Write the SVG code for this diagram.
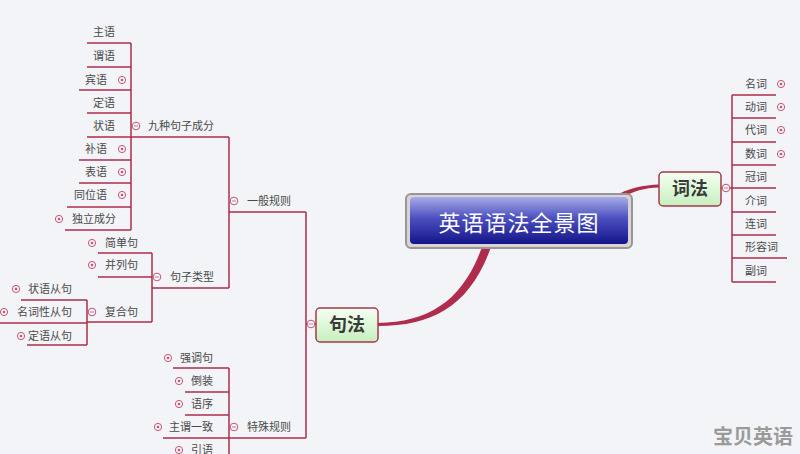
<svg xmlns="http://www.w3.org/2000/svg" width="800" height="454" viewBox="0 0 800 454">
<defs>
<linearGradient id="gBlue" x1="0" y1="0" x2="0" y2="1">
<stop offset="0" stop-color="#a8abe8"/>
<stop offset="0.45" stop-color="#4c50bf"/>
<stop offset="1" stop-color="#14148a"/>
</linearGradient>
<linearGradient id="gGreen" x1="0" y1="0" x2="0" y2="1">
<stop offset="0" stop-color="#f6fff2"/>
<stop offset="1" stop-color="#c6efbe"/>
</linearGradient>
<g id="plus"><circle r="3.6" fill="#f6f6f8" stroke="#c25574" stroke-width="1"/><circle r="1.3" fill="#c25574"/></g>
<g id="minus"><circle r="3.8" fill="#f6f6f8" stroke="#c25574" stroke-width="1"/><line x1="-2" y1="0" x2="2" y2="0" stroke="#c25574" stroke-width="0.8"/></g>
</defs>
<style>
.ln{stroke:#b02c4c;stroke-width:1.5;fill:none}
.t{font-family:"Noto Sans CJK SC","Noto Sans",sans-serif;font-size:11px;fill:#4a4a4a}
.e{text-anchor:end}
.sub{font-family:"Noto Sans CJK SC",serif;font-size:18px;font-weight:bold;fill:#3a3a3a;text-anchor:middle}
.box{fill:url(#gGreen);stroke:#a53a4c;stroke-width:1.5}
</style>
<rect width="800" height="454" fill="#f3f4f7"/>
<g id="connectors">
<path class="ln" d="M131,43V230 M87,43H131 M87,67H131 M79,90H131 M87,113H131 M87,137H229 M79,160H131 M79,183H131 M67,207H131 M65,230H131"/>
<path class="ln" d="M229,137V288 M229,212H306"/>
<path class="ln" d="M152,253V322 M98,253H152 M98,277H152 M152,288H229 M87,322H152"/>
<path class="ln" d="M87,300V345 M21,300H87 M0,323H87 M27,345H87"/>
<path class="ln" d="M229,368V454 M173,368H229 M185,392H229 M185,415H229 M163,438H306"/>
<path class="ln" d="M306,212V438 M306,324H316"/>
<path class="ln" d="M732,95V282 M732,95H776 M732,118H776 M732,142H776 M732,165H776 M721,188H776 M732,212H776 M732,235H776 M732,258H787 M732,282H776"/>
<path d="M378,323 C430,322 463,300 482,247 L491,247 C470,306 433,326 378,326 Z" fill="#b02c4c"/>
<path d="M613,197 C628,188 644,185 659,184.5 L659,187.5 C645,188 632,191 623,198 Z" fill="#b02c4c"/>
</g>
<g id="root">
<rect x="406" y="194" width="226" height="54" rx="5" fill="#d8d4d6" stroke="#9a9496" stroke-width="2"/>
<rect x="410" y="197" width="218" height="47" rx="4" fill="url(#gBlue)"/>
<text x="519" y="231" font-family="'Noto Sans CJK SC',serif" font-size="22" fill="#ffffff" text-anchor="middle" letter-spacing="1">英语语法全景图</text>
</g>
<g id="jufa">
<rect class="box" x="316" y="308" width="62" height="34" rx="4"/>
<text class="sub" x="347" y="331">句法</text>
<use href="#minus" x="311" y="324"/>
</g>
<g id="cifa">
<rect class="box" x="659" y="172" width="62" height="34" rx="4"/>
<text class="sub" x="690" y="195">词法</text>
<use href="#minus" x="726" y="188"/>
</g>
<g id="yibanguize"><use href="#minus" x="234" y="201"/><text class="t" x="247" y="205">一般规则</text></g>
<g id="jiuzhong"><use href="#minus" x="136" y="126"/><text class="t" x="148" y="130">九种句子成分</text></g>
<g id="zhuyu"><text class="t e" x="115" y="36">主语</text></g>
<g id="weiyu"><text class="t e" x="115" y="60">谓语</text></g>
<g id="binyu"><text class="t e" x="107" y="84">宾语</text><use href="#plus" x="122" y="80"/></g>
<g id="dingyu"><text class="t e" x="115" y="107">定语</text></g>
<g id="zhuangyu"><text class="t e" x="115" y="130">状语</text></g>
<g id="buyu"><text class="t e" x="107" y="153">补语</text><use href="#plus" x="122" y="149"/></g>
<g id="biaoyu"><text class="t e" x="107" y="176">表语</text><use href="#plus" x="122" y="172"/></g>
<g id="tongweiyu"><text class="t e" x="107" y="199">同位语</text><use href="#plus" x="122" y="195"/></g>
<g id="duli"><use href="#plus" x="59" y="219"/><text class="t" x="72" y="223">独立成分</text></g>
<g id="juzileixing"><use href="#minus" x="157" y="277"/><text class="t" x="170" y="281">句子类型</text></g>
<g id="jiandanju"><use href="#plus" x="92" y="243"/><text class="t" x="105" y="247">简单句</text></g>
<g id="binglieju"><use href="#plus" x="92" y="265"/><text class="t" x="105" y="269">并列句</text></g>
<g id="fuheju"><use href="#minus" x="92" y="312"/><text class="t" x="105" y="316">复合句</text></g>
<g id="zhuangyucongju"><use href="#plus" x="16" y="289"/><text class="t e" x="72" y="293">状语从句</text></g>
<g id="mingcixing"><use href="#plus" x="4" y="312"/><text class="t e" x="72" y="316">名词性从句</text></g>
<g id="dingyucongju"><use href="#plus" x="21" y="336"/><text class="t e" x="72" y="340">定语从句</text></g>
<g id="teshuguize"><use href="#minus" x="234" y="427"/><text class="t" x="247" y="431">特殊规则</text></g>
<g id="qiangdiao"><use href="#plus" x="168" y="358"/><text class="t e" x="213" y="362">强调句</text></g>
<g id="daozhuang"><use href="#plus" x="179" y="381"/><text class="t e" x="213" y="385">倒装</text></g>
<g id="yuxu"><use href="#plus" x="179" y="404"/><text class="t e" x="213" y="408">语序</text></g>
<g id="zhuweiyizhi"><use href="#plus" x="158" y="427"/><text class="t e" x="213" y="431">主谓一致</text></g>
<g id="yinyu"><use href="#plus" x="179" y="450"/><text class="t e" x="213" y="454">引语</text></g>
<g id="mingci"><text class="t" x="745" y="88">名词</text><use href="#plus" x="781" y="84"/></g>
<g id="dongci"><text class="t" x="745" y="111">动词</text><use href="#plus" x="781" y="107"/></g>
<g id="daici"><text class="t" x="745" y="134">代词</text><use href="#plus" x="781" y="130"/></g>
<g id="shuci"><text class="t" x="745" y="158">数词</text><use href="#plus" x="781" y="154"/></g>
<g id="guanci"><text class="t" x="745" y="181">冠词</text></g>
<g id="jieci"><text class="t" x="745" y="205">介词</text></g>
<g id="lianci"><text class="t" x="745" y="228">连词</text></g>
<g id="xingrongci"><text class="t" x="745" y="251">形容词</text></g>
<g id="fuci"><text class="t" x="745" y="275">副词</text></g>
<text x="753" y="444" font-family="'Noto Sans CJK SC',sans-serif" font-size="20" font-weight="bold" fill="#9a9a9a" text-anchor="middle">宝贝英语</text>
</svg>
